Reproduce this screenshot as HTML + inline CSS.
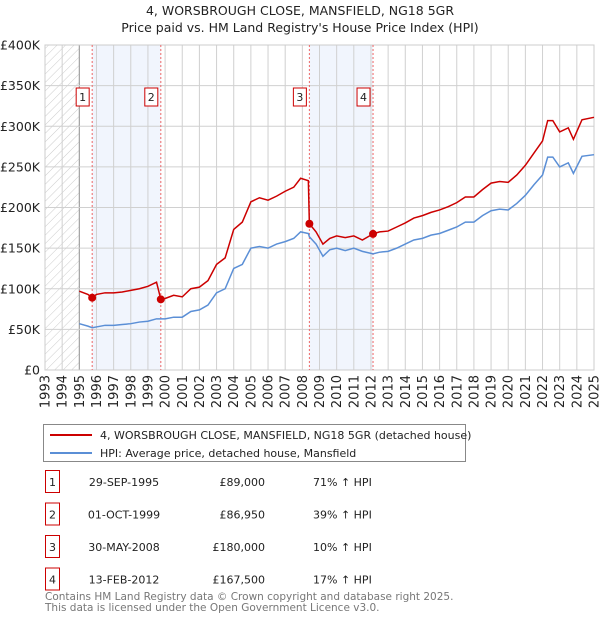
<!DOCTYPE html>
<html><head><meta charset="utf-8"><style>
body{margin:0;background:#fff;font-family:"DejaVu Sans","Liberation Sans",sans-serif;}
svg text{font-family:"DejaVu Sans","Liberation Sans",sans-serif;}
</style></head><body>
<svg id="chart" width="600" height="620" viewBox="0 0 600 620" xmlns="http://www.w3.org/2000/svg">
<defs><pattern id="hatch" width="6" height="6" patternUnits="userSpaceOnUse" patternTransform="rotate(45)"><line x1="0" y1="0" x2="0" y2="6" stroke="#ccc" stroke-width="1"/></pattern></defs>
<text x="300" y="15" text-anchor="middle" font-size="12.5" fill="#222">4, WORSBROUGH CLOSE, MANSFIELD, NG18 5GR</text>
<text x="300" y="32" text-anchor="middle" font-size="12.5" fill="#222">Price paid vs. HM Land Registry's House Price Index (HPI)</text>
<g id="grid"></g><g id="marks"></g>
<g>
<rect x="43.5" y="424.5" width="422" height="37" fill="#fff" stroke="#888"/>
<line x1="50" y1="435" x2="92" y2="435" stroke="#cc0000" stroke-width="2"/>
<text x="100" y="439" font-size="11" fill="#222">4, WORSBROUGH CLOSE, MANSFIELD, NG18 5GR (detached house)</text>
<line x1="50" y1="453" x2="92" y2="453" stroke="#5b8fd6" stroke-width="2"/>
<text x="100" y="457" font-size="11" fill="#222">HPI: Average price, detached house, Mansfield</text>
</g>
<g id="table"></g>
<text x="45" y="600" font-size="10.5" fill="#777">Contains HM Land Registry data © Crown copyright and database right 2025.</text>
<text x="45" y="611" font-size="10.5" fill="#777">This data is licensed under the Open Government Licence v3.0.</text>
</svg>
<script>
const hpiDates=[1995.0,1995.5,1995.75,1996.0,1996.5,1997.0,1997.5,1998.0,1998.5,1999.0,1999.5,1999.75,2000.0,2000.5,2001.0,2001.5,2002.0,2002.5,2003.0,2003.5,2004.0,2004.5,2005.0,2005.5,2006.0,2006.5,2007.0,2007.5,2007.9,2008.35,2008.41,2008.8,2009.2,2009.6,2010.0,2010.5,2011.0,2011.5,2012.12,2012.5,2013.0,2013.5,2014.0,2014.5,2015.0,2015.5,2016.0,2016.5,2017.0,2017.5,2018.0,2018.5,2019.0,2019.5,2020.0,2020.5,2021.0,2021.5,2022.0,2022.3,2022.6,2023.0,2023.5,2023.8,2024.3,2025.0];
const hpiValues=[57,54,52,53,55,55,56,57,59,60,63,63,63,65,65,72,74,80,95,100,125,130,150,152,150,155,158,162,170,168,164,155,140,148,150,147,150,146,143,145,146,150,155,160,162,166,168,172,176,182,182,190,196,198,197,205,215,228,240,262,262,250,255,242,263,265];
const priceValues=[97,93,89,93,95,95,96,98,100,103,108,87,88,92,90,100,102,110,130,138,173,182,207,212,209,214,220,225,236,233,180,170,155,162,165,163,165,160,167.5,170,171,176,181,187,190,194,197,201,206,213,213,222,230,232,231,240,252,267,282,307,307,293,298,284,308,311];
const saleDates=[1995.75,1999.75,2008.41,2012.12];
const saleValues=[89,86.95,180,167.5];
const saleLabels=["1","2","3","4"];
const saleDateText=["29-SEP-1995","01-OCT-1999","30-MAY-2008","13-FEB-2012"];
const salePriceText=["£89,000","£86,950","£180,000","£167,500"];
const saleHpiText=["71% ↑ HPI","39% ↑ HPI","10% ↑ HPI","17% ↑ HPI"];
const yTicks=[0,50,100,150,200,250,300,350,400];
const yTickLabels=["£0","£50K","£100K","£150K","£200K","£250K","£300K","£350K","£400K"];
const xYears=[1993,1994,1995,1996,1997,1998,1999,2000,2001,2002,2003,2004,2005,2006,2007,2008,2009,2010,2011,2012,2013,2014,2015,2016,2017,2018,2019,2020,2021,2022,2023,2024,2025];

const X0=45,X1=594,Y0=370,Y1=45;
const xs=t=>X0+(t-1993)/(2025-1993)*(X1-X0);
const ys=v=>Y0-v/400*(Y0-Y1);
const NS="http://www.w3.org/2000/svg";
function mk(p,tag,a){const e=document.createElementNS(NS,tag);for(const k in a)e.setAttribute(k,a[k]);p.appendChild(e);return e;}
const grid=document.getElementById('grid'),marks=document.getElementById('marks'),table=document.getElementById('table');
for(let i=0;i<saleDates.length;i+=2){
 const r=mk(grid,'rect',{x:xs(saleDates[i]),y:Y1,width:xs(saleDates[i+1])-xs(saleDates[i]),height:Y0-Y1,fill:'#eef3fc',opacity:0.8});
 
 
}
const h=mk(grid,'rect',{x:X0,y:Y1,width:xs(1995)-X0,height:Y0-Y1,fill:'url(#hatch)'});


xYears.forEach(y=>{
 mk(grid,'line',{x1:xs(y),x2:xs(y),y1:Y1,y2:Y0,stroke:'#d0d0d0','stroke-width':1});
 const t=mk(grid,'text',{x:0,y:0,'font-size':13,fill:'#222','text-anchor':'end',transform:`translate(${xs(y)+4.5},${Y0+5}) rotate(-90)`});
 t.textContent=y;
 
 
});
mk(grid,'line',{x1:xs(1995),x2:xs(1995),y1:Y1,y2:Y0,stroke:'#999','stroke-width':1});
yTicks.forEach((v,i)=>{
 mk(grid,'line',{x1:X0,x2:X1,y1:ys(v),y2:ys(v),stroke:'#d0d0d0','stroke-width':1});
 const t=mk(grid,'text',{x:X0-5,y:ys(v)+4.5,'font-size':12.5,fill:'#222','text-anchor':'end'});
 t.textContent=yTickLabels[i];
 
 
});
mk(grid,'rect',{x:X0,y:Y1,width:X1-X0,height:Y0-Y1,fill:'none',stroke:'#ccc'});
saleDates.forEach((d,i)=>{
 mk(marks,'line',{x1:xs(d),x2:xs(d),y1:Y1,y2:Y0,stroke:'#e66','stroke-width':1,'stroke-dasharray':'2,2'});
 const g=mk(marks,'g',{});
 
 
 mk(g,'rect',{x:xs(d)-16,y:88,width:13,height:18,fill:'#fff',stroke:'#cc0000'});
 const t=mk(g,'text',{x:xs(d)-9.5,y:101,'font-size':11,fill:'#222','text-anchor':'middle'});t.textContent=saleLabels[i];
});
const hp=mk(marks,'polyline',{points:hpiDates.map((d,i)=>xs(d)+','+ys(hpiValues[i])).join(' '),fill:'none',stroke:'#5b8fd6','stroke-width':1.5});


const pp=mk(marks,'polyline',{points:hpiDates.map((d,i)=>xs(d)+','+ys(priceValues[i])).join(' '),fill:'none',stroke:'#cc0000','stroke-width':1.5});


saleDates.forEach((d,i)=>{
 const c=mk(marks,'circle',{cx:xs(d),cy:ys(saleValues[i]),r:4,fill:'#cc0000'});
 
 
});
saleDates.forEach((d,i)=>{
 const y=482+i*32.5;
 const g=mk(table,'g',{});
 
 
 mk(g,'rect',{x:45.5,y:y-11.5,width:14,height:22,fill:'#fff',stroke:'#cc0000'});
 let t=mk(g,'text',{x:52.5,y:y+4,'font-size':11,'text-anchor':'middle',fill:'#222'});t.textContent=saleLabels[i];
 t=mk(g,'text',{x:124,y:y+4,'font-size':11,'text-anchor':'middle',fill:'#222'});t.textContent=saleDateText[i];
 t=mk(g,'text',{x:265,y:y+4,'font-size':11,'text-anchor':'end',fill:'#222'});t.textContent=salePriceText[i];
 t=mk(g,'text',{x:313,y:y+4,'font-size':11,fill:'#222'});t.textContent=saleHpiText[i];
});
</script>
</body></html>
